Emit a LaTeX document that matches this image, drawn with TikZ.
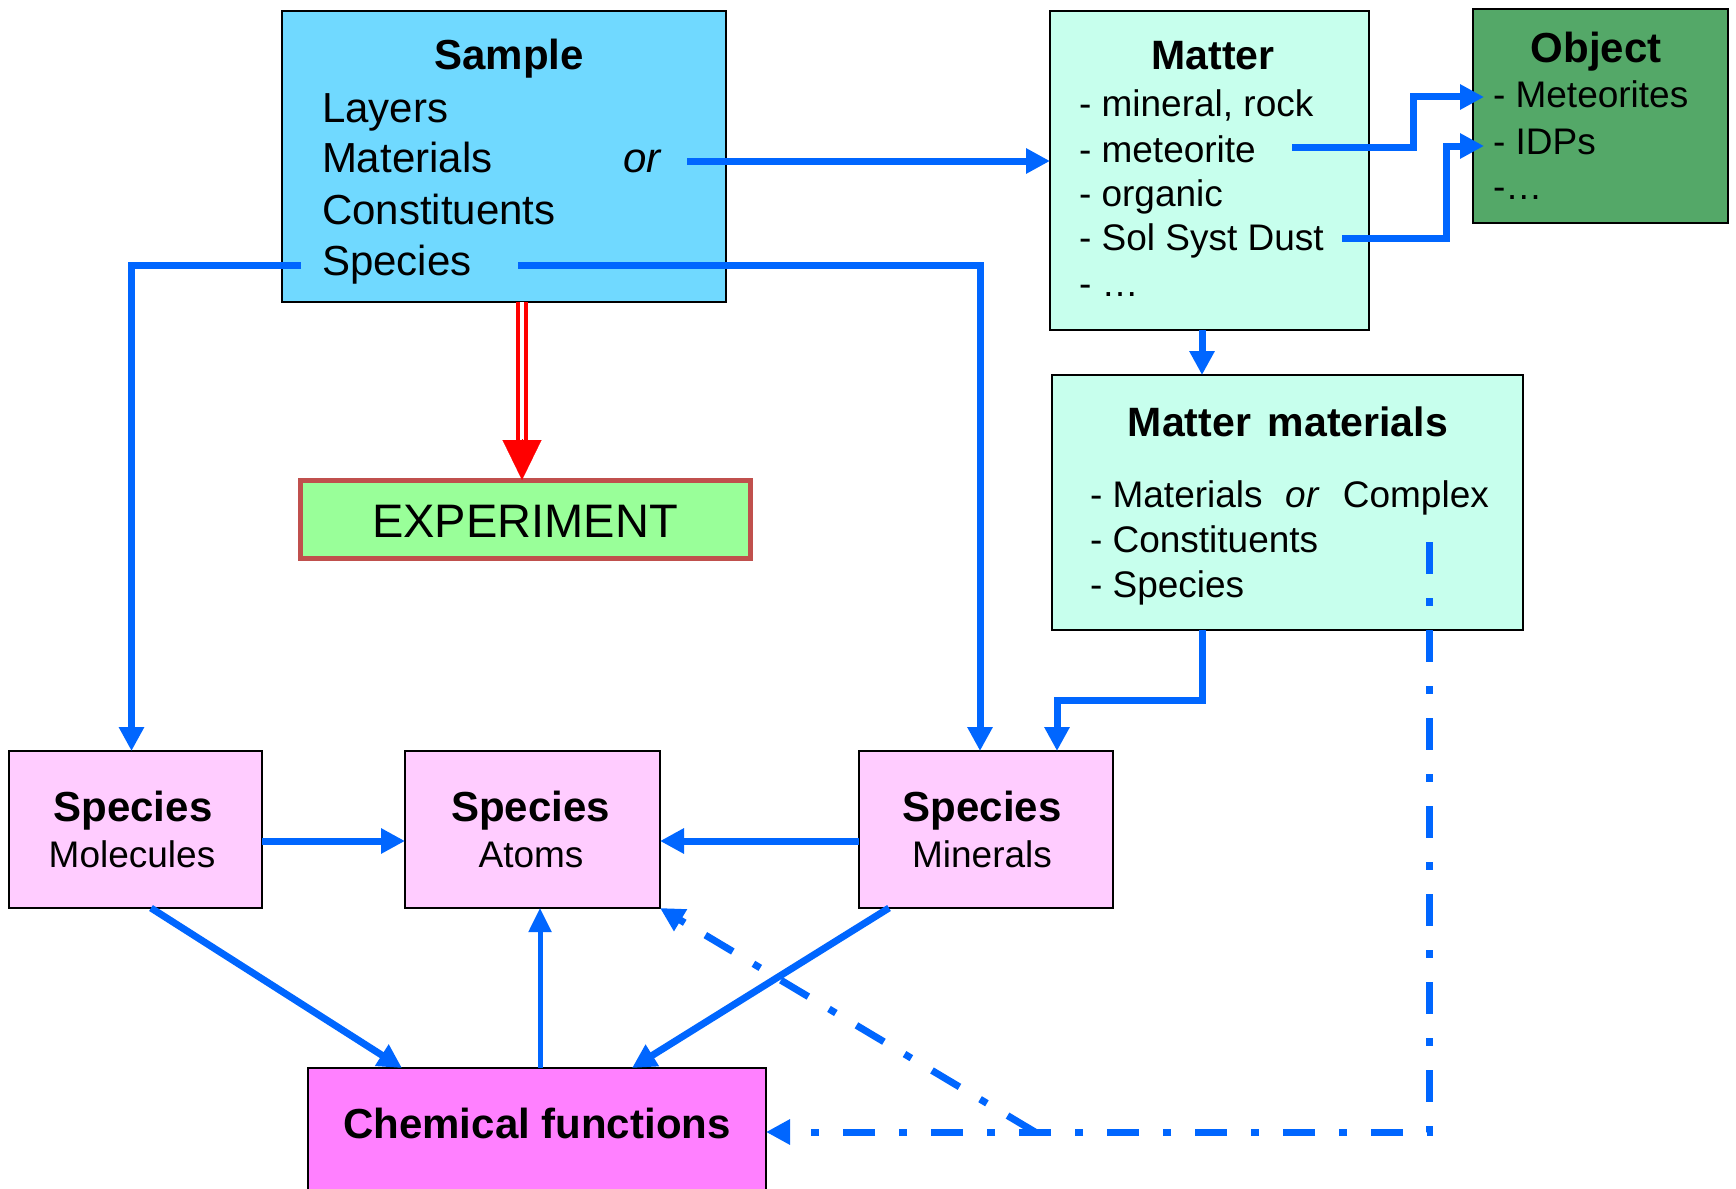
\documentclass[tikz,border=0pt]{standalone}
\usepackage{fontspec}
\setmainfont{Liberation Sans}
\usetikzlibrary{arrows.meta,calc}
\definecolor{sampleblue}{RGB}{112,217,255}
\definecolor{mint}{RGB}{199,255,237}
\definecolor{objgreen}{RGB}{84,168,104}
\definecolor{expgreen}{RGB}{153,255,153}
\definecolor{expborder}{RGB}{192,80,77}
\definecolor{pinklt}{RGB}{255,204,255}
\definecolor{pinkdk}{RGB}{255,128,255}
\definecolor{arrowblue}{RGB}{0,102,255}
\newcommand{\fTitle}{\fontsize{42pt}{50pt}\selectfont\bfseries}
\newcommand{\fBig}{\fontsize{42pt}{50pt}\selectfont}
\newcommand{\fItem}{\fontsize{37pt}{44pt}\selectfont}
\newcommand{\fExp}{\fontsize{47pt}{56pt}\selectfont}
\begin{document}
\begin{tikzpicture}[x=1pt,y=-1pt,
  box/.style={draw=black, line width=2pt, inner sep=0pt, outer sep=0pt},
  txt/.style={inner sep=0pt, outer sep=0pt, text=black},
  conn/.style={draw=arrowblue, line width=7pt, -{Triangle[width=24pt,length=24pt]}},
  thinconn/.style={draw=arrowblue, line width=5pt, -{Triangle[width=22pt,length=24pt]}},
  dd/.style={draw=arrowblue, line width=7pt, dash pattern=on 32pt off 24pt on 8pt off 24pt, -{Triangle[width=24pt,length=24pt]}},
  redline/.style={draw=red, line width=4.3pt, double=white, double distance=4.3pt}]
\useasboundingbox (0,0) rectangle (1736,1188);
\clip (0,0) rectangle (1736,1188);
\fill[white] (0,0) rectangle (1736,1188);

% boxes
\node[box, fill=sampleblue, minimum width=444pt, minimum height=291pt] (sample) at (504,156.5) {};
\node[box, fill=mint, minimum width=319pt, minimum height=319pt] (matter) at (1209.5,170.5) {};
\node[box, fill=objgreen, minimum width=255pt, minimum height=214pt] (object) at (1600,116) {};
\node[box, fill=mint, minimum width=471pt, minimum height=255pt] (mm) at (1287.5,502.5) {};
\node[box, draw=expborder, line width=5pt, fill=expgreen, minimum width=450pt, minimum height=78pt] (exp) at (525,519) {};
\node[box, fill=pinklt, minimum width=253pt, minimum height=157pt] (mol) at (135.5,829.5) {};
\node[box, fill=pinklt, minimum width=255pt, minimum height=157pt] (atoms) at (532.5,829.5) {};
\node[box, fill=pinklt, minimum width=254pt, minimum height=157pt] (min) at (986,829.5) {};
\node[box, fill=pinkdk, minimum width=458pt, minimum height=140pt] (chem) at (537,1138) {};

% Sample text
\node[txt, font=\fTitle, anchor=base] (sTitle) at (509,70) {Sample};
\node[txt, font=\fBig, anchor=base west] (s1) at (322,122) {Layers};
\node[txt, font=\fBig, anchor=base west] (s2) at (322,172) {Materials};
\node[txt, font=\fBig, anchor=base west] (s3) at (322,224) {Constituents};
\node[txt, font=\fBig, anchor=base west] (s4) at (322,275) {Species};
\node[txt, font=\fBig\itshape, anchor=base west] (sor) at (623,172) {or};

% Matter text
\node[txt, font=\fontsize{41pt}{50pt}\selectfont\bfseries, anchor=base] (mTitle) at (1213,70) {Matter};
\node[txt, font=\fItem, anchor=base west] (m1) at (1079,117) {- mineral, rock};
\node[txt, font=\fItem, anchor=base west] (m2) at (1079,162) {- meteorite};
\node[txt, font=\fItem, anchor=base west] (m3) at (1079,206) {- organic};
\node[txt, font=\fItem, anchor=base west] (m4) at (1079,250) {- Sol Syst Dust};
\node[txt, font=\fItem, anchor=base west] (m5) at (1079,296) {- …};

% Object text
\node[txt, font=\fTitle, anchor=base] (oTitle) at (1596,63) {Object};
\node[txt, font=\fItem, anchor=base west] (o1) at (1493,108) {- Meteorites};
\node[txt, font=\fItem, anchor=base west] (o2) at (1493,154) {- IDPs};
\node[txt, font=\fItem, anchor=base west] (o3) at (1493,199) {-…};

% Matter materials text
\node[txt, font=\fontsize{41pt}{50pt}\selectfont\bfseries, anchor=base] (mmTitle) at (1288,436) {Matter\hspace{17pt}materials};
\node[txt, font=\fItem, anchor=base west] (mm1) at (1090,507) {- Materials\hspace{23pt}\textit{or}\hspace{23pt}Complex};
\node[txt, font=\fItem, anchor=base west] (mm2) at (1090,552) {- Constituents};
\node[txt, font=\fItem, anchor=base west] (mm3) at (1090,597) {- Species};

% Experiment
\node[txt, font=\fExp, anchor=base] (expT) at (525,537) {EXPERIMENT};

% Species boxes
\node[txt, font=\fTitle, anchor=base] (molT) at (133,821) {Species};
\node[txt, font=\fItem, anchor=base] (molS) at (132,867) {Molecules};
\node[txt, font=\fTitle, anchor=base] (atT) at (530.5,821) {Species};
\node[txt, font=\fItem, anchor=base] (atS) at (531,867) {Atoms};
\node[txt, font=\fTitle, anchor=base] (minT) at (982,821) {Species};
\node[txt, font=\fItem, anchor=base] (minS) at (982,867) {Minerals};

% Chemical functions
\node[txt, font=\fTitle, anchor=base] (chemT) at (537,1138) {Chemical functions};

% connector end points
\coordinate (orEnd) at (687,161);
\coordinate (spR) at (518,265);
\coordinate (spL) at (301,265);
\coordinate (metS) at (1292,147);
\coordinate (metT) at (1484,97);
\coordinate (dustS) at (1342,238);
\coordinate (idpT) at (1484,146);
\coordinate (ddTop) at (1429,542);
\coordinate (ddCorner) at (1429,1132);
\coordinate (ddMid) at (1035,1132);

% connectors
\draw[conn] (orEnd) -- (orEnd -| matter.west);
\draw[conn] (spR) -| ([xshift=-6pt]min.north);
\draw[conn] (spL) -| ([xshift=-4pt]mol.north);
\draw[redline] ([xshift=-3pt]exp.north |- sample.south) -- ([xshift=-3pt,yshift=38pt]exp.north);
\draw[red, line width=0.2pt, -{Triangle[width=39pt,length=40pt]}] ([xshift=-3pt,yshift=41pt]exp.north) -- ([xshift=-3pt]exp.north);
\draw[conn] ([xshift=-7.5pt]matter.south) -- ([xshift=-7.5pt]matter.south |- mm.north);
\draw[conn] (metS) -- ++(121,0) |- (metT);
\draw[conn] (dustS) -- ++(104,0) |- (idpT);
\draw[conn] ([xshift=-85.5pt]mm.south) -- ++(0,70) -| ([xshift=71pt]min.north);
\draw[conn] ([yshift=-11.5pt]mol.east) -- ([yshift=-11.5pt]atoms.west);
\draw[conn] ([yshift=-11.5pt]min.west) -- ([yshift=-11.5pt]atoms.east);
\draw[conn] ([xshift=15.5pt]mol.south) -- ([xshift=-135pt]chem.north);
\draw[thinconn] ([xshift=3pt]chem.north) -- ([xshift=3pt]chem.north |- atoms.south);
\draw[conn] ([xshift=-97pt]min.south) -- ([xshift=95pt]chem.north);
\draw[dd] (ddTop) -- (ddCorner) -- (chem.east |- ddCorner);
\draw[dd] (ddMid) -- (atoms.south east);
\end{tikzpicture}
\end{document}
